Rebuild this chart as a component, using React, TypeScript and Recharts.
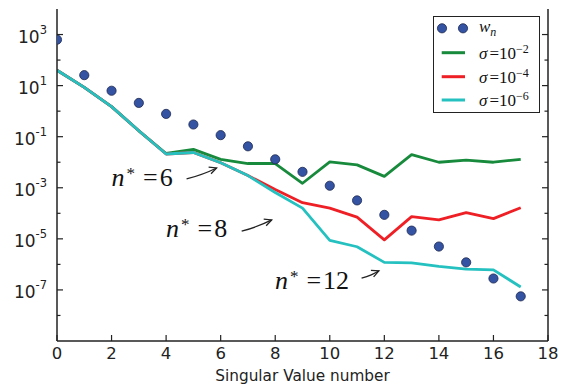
import React from 'react';
import { ComposedChart, Line, Scatter, XAxis, YAxis, Legend, ReferenceDot } from 'recharts';

// Singular value index
const singularIndex = [0, 1, 2, 3, 4, 5, 6, 7, 8, 9, 10, 11, 12, 13, 14, 15, 16, 17];

// Weights w_n
const weights = [630, 25.7, 6.3, 2.1, 0.78, 0.3, 0.115, 0.042, 0.013, 0.0042, 0.0012, 3.2e-4, 8.7e-5, 2.1e-5, 5.0e-6, 1.2e-6, 2.8e-7, 5.6e-8];

// Reconstruction curves for three noise levels
const sigma1e2 = [40, 8.5, 1.5, 0.17, 0.022, 0.032, 0.013, 0.0089, 0.0089, 0.0015, 0.0103, 0.0079, 0.0028, 0.02, 0.01, 0.012, 0.01, 0.013];
const sigma1e4 = [40, 8.5, 1.5, 0.17, 0.021, 0.024, 0.0095, 0.003, 8.5e-4, 2.6e-4, 1.6e-4, 7.1e-5, 9.1e-6, 7.4e-5, 5.5e-5, 1.07e-4, 6.2e-5, 1.66e-4];
const sigma1e6 = [40, 8.5, 1.5, 0.17, 0.021, 0.024, 0.0095, 0.003, 6.5e-4, 1.6e-4, 8.7e-6, 4.9e-6, 1.2e-6, 1.15e-6, 8.4e-7, 6.5e-7, 6.1e-7, 1.3e-7];

const xTicks = [0, 2, 4, 6, 8, 10, 12, 14, 16, 18];
const yTicks = [1e-8, 1e-7, 1e-6, 1e-5, 1e-4, 1e-3, 1e-2, 1e-1, 1, 10, 100, 1000];

// Cut-off annotations: label and the point each arrow points at
const cutoffLabels = ['6', '8', '12'];
const cutoffTipN = [5.85, 7.87, 11.8];
const cutoffTipValue = [5.96e-3, 5.5e-5, 5.6e-7];

const rows = singularIndex.map((n, i) => ({
  n,
  w: weights[i],
  s2: sigma1e2[i],
  s4: sigma1e4[i],
  s6: sigma1e6[i],
}));

const COLORS = { w: '#3553a3', wEdge: '#1d2850', s2: '#178a3c', s4: '#ee2026', s6: '#25c0c0' };
const FRAME = '#222';
const SANS = 'DejaVu Sans, sans-serif';
const SERIF = 'Liberation Serif, serif';

// pixel offsets of arrow tail and text start, relative to the arrow tip
const ANNOT_LAYOUT = [
  { tail: [-30, 11], text: [-105, 18.3] },
  { tail: [-30, 11.3], text: [-105.7, 17.3] },
  { tail: [-17.3, 7.3], text: [-104, 18] },
];

const LeftTick = (props: any) => {
  const { x, y, payload } = props;
  const e = Math.round(Math.log10(payload.value));
  const major = e % 2 !== 0;
  return (
    <g>
      <line x1={x} y1={y} x2={x + (major ? 6 : 3.5)} y2={y} stroke={FRAME} strokeWidth={1.2} />
      {major && (
        <text x={x - 10} y={y + 8} textAnchor="end" fontFamily={SANS} fontSize={17} fill="#222">
          <tspan>10</tspan>
          <tspan dy={-9} fontSize={11.5}>{e < 0 ? `-${-e}` : `${e}`}</tspan>
        </text>
      )}
    </g>
  );
};

const RightTick = (props: any) => {
  const { x, y, payload } = props;
  const e = Math.round(Math.log10(payload.value));
  const major = e % 2 !== 0;
  return <line x1={x} y1={y} x2={x - (major ? 6 : 3.5)} y2={y} stroke={FRAME} strokeWidth={1.2} />;
};

const BottomTick = (props: any) => {
  const { x, y, payload } = props;
  return (
    <g>
      <line x1={x} y1={y} x2={x} y2={y - 6} stroke={FRAME} strokeWidth={1.2} />
      <text x={x} y={y + 17.7} textAnchor="middle" fontFamily={SANS} fontSize={16.5} fill="#222">
        {payload.value}
      </text>
    </g>
  );
};

const TopTick = (props: any) => {
  const { x, y } = props;
  return <line x1={x} y1={y} x2={x} y2={y + 6} stroke={FRAME} strokeWidth={1.2} />;
};

const Annotation = ({ cx, cy, label, layout }: any) => {
  const [tx, ty] = layout.tail;
  const [lx, ly] = layout.text;
  const len = Math.hypot(tx, ty);
  const ux = tx / len;
  const uy = ty / len;
  const head = 8;
  const a = (26 * Math.PI) / 180;
  const rot = (ang: number) => [ux * Math.cos(ang) - uy * Math.sin(ang), ux * Math.sin(ang) + uy * Math.cos(ang)];
  const [h1x, h1y] = rot(a);
  const [h2x, h2y] = rot(-a);
  return (
    <g>
      <path
        d={`M${cx + tx},${cy + ty} Q${cx + tx * 0.5 + 2},${cy + ty * 0.5 + 1} ${cx},${cy}`}
        fill="none"
        stroke="#222"
        strokeWidth={1.3}
      />
      <path
        d={`M${cx + h1x * head},${cy + h1y * head} L${cx},${cy} L${cx + h2x * head},${cy + h2y * head}`}
        fill="none"
        stroke="#222"
        strokeWidth={1.3}
      />
      <text x={cx + lx} y={cy + ly} fontFamily={SERIF} fontSize={26} fill="#111">
        <tspan fontStyle="italic">n</tspan>
        <tspan dx={2} dy={-7} fontSize={17}>*</tspan>
        <tspan dx={8} dy={7}>=</tspan>
        <tspan dx={2}>{label}</tspan>
      </text>
    </g>
  );
};

const LegendBox = () => {
  const rowsY = [12.3, 36.7, 60.7, 84];
  const lines = [COLORS.s2, COLORS.s4, COLORS.s6];
  const exps = ['2', '4', '6'];
  return (
    <svg width={108} height={98} style={{ display: 'block' }}>
      <rect x={0.5} y={0.5} width={106} height={96} fill="#fff" stroke={FRAME} strokeWidth={1} />
      <circle cx={9} cy={rowsY[0]} r={4.6} fill={COLORS.w} stroke={COLORS.wEdge} strokeWidth={0.8} />
      <circle cx={30} cy={rowsY[0]} r={4.6} fill={COLORS.w} stroke={COLORS.wEdge} strokeWidth={0.8} />
      <text x={46} y={rowsY[0] + 4} fontFamily={SERIF} fontSize={17} fill="#111">
        <tspan fontStyle="italic">w</tspan>
        <tspan dy={4} fontSize={12} fontStyle="italic">n</tspan>
      </text>
      {lines.map((c, i) => (
        <g key={c}>
          <line x1={8.7} x2={32} y1={rowsY[i + 1]} y2={rowsY[i + 1]} stroke={c} strokeWidth={3} />
          <text x={46} y={rowsY[i + 1] + 6} fontFamily={SERIF} fontSize={17} fill="#111">
            <tspan fontStyle="italic">σ</tspan>
            <tspan dx={2}>=10</tspan>
            <tspan dy={-6} fontSize={12}>{`\u2212${exps[i]}`}</tspan>
          </text>
        </g>
      ))}
    </svg>
  );
};

export default function App() {
  return (
    <div style={{ position: 'absolute', left: 0, top: 0, background: '#fff' }}>
      <ComposedChart width={562} height={385} data={rows} margin={{ top: 9, right: 13, bottom: 0, left: 0 }}>
        <XAxis
          dataKey="n"
          type="number"
          domain={[0, 18]}
          allowDataOverflow
          ticks={xTicks}
          interval={0}
          height={44}
          tickSize={0}
          tickMargin={0}
          tick={<BottomTick />}
          tickLine={false}
          axisLine={{ stroke: FRAME, strokeWidth: 1.5 }}
          label={(p: any) => {
            const vb = p.viewBox || {};
            return (
              <text x={vb.x + vb.width / 2} y={vb.y + 40} textAnchor="middle" fontFamily={SANS} fontSize={15.3} fill="#222">
                Singular Value number
              </text>
            );
          }}
        />
        <XAxis
          xAxisId="top"
          orientation="top"
          type="number"
          domain={[0, 18]}
          allowDataOverflow
          ticks={xTicks}
          interval={0}
          height={0}
          tickSize={0}
          tickMargin={0}
          tick={<TopTick />}
          tickLine={false}
          axisLine={{ stroke: FRAME, strokeWidth: 1.5 }}
        />
        <YAxis
          type="number"
          scale="log"
          domain={[1e-9, 1e4]}
          allowDataOverflow
          ticks={yTicks}
          interval={0}
          width={57}
          tickSize={0}
          tickMargin={0}
          tick={<LeftTick />}
          tickLine={false}
          axisLine={{ stroke: FRAME, strokeWidth: 1.5 }}
        />
        <YAxis
          yAxisId="right"
          orientation="right"
          type="number"
          scale="log"
          domain={[1e-9, 1e4]}
          allowDataOverflow
          ticks={yTicks}
          interval={0}
          width={1}
          tickSize={0}
          tickMargin={0}
          tick={<RightTick />}
          tickLine={false}
          axisLine={{ stroke: FRAME, strokeWidth: 1.5 }}
        />
        <Line dataKey="s2" stroke={COLORS.s2} strokeWidth={2.8} dot={false} strokeLinejoin="round" isAnimationActive={false} />
        <Line dataKey="s4" stroke={COLORS.s4} strokeWidth={2.8} dot={false} strokeLinejoin="round" isAnimationActive={false} />
        <Line dataKey="s6" stroke={COLORS.s6} strokeWidth={2.8} dot={false} strokeLinejoin="round" isAnimationActive={false} />
        <Scatter
          dataKey="w"
          isAnimationActive={false}
          shape={(p: any) => <circle cx={p.cx} cy={p.cy} r={4.6} fill={COLORS.w} stroke={COLORS.wEdge} strokeWidth={0.8} />}
        />
        {cutoffLabels.map((lab, i) => (
          <ReferenceDot
            key={lab}
            x={cutoffTipN[i]}
            y={cutoffTipValue[i]}
            r={0}
            ifOverflow="visible"
            shape={(p: any) => <Annotation cx={p.cx} cy={p.cy} label={lab} layout={ANNOT_LAYOUT[i]} />}
          />
        ))}
        <Legend
          layout="vertical"
          align="center"
          verticalAlign="middle"
          content={() => <LegendBox />}
          wrapperStyle={{ left: 433, top: 16, width: 108, height: 98, margin: 0 }}
        />
      </ComposedChart>
    </div>
  );
}
